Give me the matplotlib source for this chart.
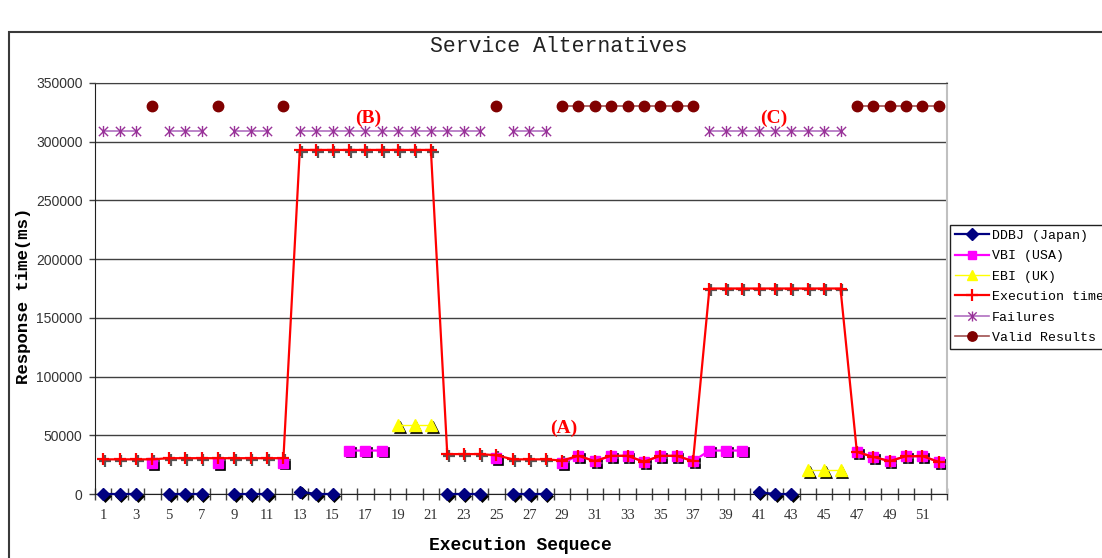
import numpy as np
import matplotlib
matplotlib.use("Agg")
import matplotlib.pyplot as plt
from matplotlib.path import Path
from matplotlib.patches import Rectangle
from matplotlib.transforms import offset_copy

# ============= DATA =============

runs = list(range(1, 53))

ddbj = [0, 0, 0, None, 0, 0, 0, None, 0, 0, 0, None,
        2000, 0, 0, None, None, None, None, None, None, 0, 0, 0,
        None, 0, 0, 0, None, None, None, None, None, None, None, None,
        None, None, None, None, 1500, 0, 0, None, None, None, None, None,
        None, None, None, None]

vbi = [None, None, None, 26500, None, None, None, 26500, None, None, None, 26800,
       None, None, None, 37000, 37000, 37000, None, None, None, None, None, None,
       30800, None, None, None, 26500, 32500, 28000, 32500, 32500, 27500, 32500, 32500,
       28000, 37000, 37000, 37000, None, None, None, None, None, None, 35800, 31600,
       28000, 32200, 32200, 27400]

ebi = [None] * 18 + [59000, 59000, 59000] + [None] * 22 + [20300, 20300, 20300] + [None] * 6

exec_time = [29500, 29500, 29500, 29500, 30500, 30500, 30500, 30500, 30500, 30500, 30500, 30500,
             293000, 293000, 293000, 293000, 293000, 293000, 293000, 293000, 293000, 34000, 34000, 34000,
             33000, 29500, 29500, 29500, 28500, 32500, 28000, 32500, 32500, 27500, 32500, 32500,
             28000, 175000, 175000, 175000, 175000, 175000, 175000, 175000, 175000, 175000, 35800, 31600,
             28000, 32200, 32200, 27400]

failures = [309000, 309000, 309000, None, 309000, 309000, 309000, None, 309000, 309000, 309000, None,
            309000, 309000, 309000, 309000, 309000, 309000, 309000, 309000, 309000, 309000, 309000, 309000,
            None, 309000, 309000, 309000, None, None, None, None, None, None, None, None,
            None, 309000, 309000, 309000, 309000, 309000, 309000, 309000, 309000, 309000, None, None,
            None, None, None, None]

valid = [None, None, None, 330000, None, None, None, 330000, None, None, None, 330000,
         None, None, None, None, None, None, None, None, None, None, None, None,
         330000, None, None, None, 330000, 330000, 330000, 330000, 330000, 330000, 330000, 330000,
         330000, None, None, None, None, None, None, None, None, None, 330000, 330000,
         330000, 330000, 330000, 330000]

annotations = [("(B)", 17.2, 320000), ("(C)", 41.9, 320000), ("(A)", 29.1, 56000)]

# ============= PLOT =============

x = np.array(runs)
arr = lambda v: np.array(v, dtype=float)

# Excel-like star marker: an X with a vertical bar
star_path = Path([(-1, -1), (1, 1), (-1, 1), (1, -1), (0, -1.2), (0, 1.2)],
                 [Path.MOVETO, Path.LINETO, Path.MOVETO, Path.LINETO, Path.MOVETO, Path.LINETO])

W, H = 1102, 558
fig = plt.figure(figsize=(W / 100, H / 100), dpi=100)
ax = fig.add_axes([95 / W, 1 - 494 / H, (947 - 95) / W, (494 - 83) / H])

# outer chart frame (runs off the right and bottom edges)
fig.patches.append(Rectangle((9 / W, -0.05), 1.2, (558 - 32) / H + 0.05,
                             transform=fig.transFigure, fill=False,
                             edgecolor='#3a3a3a', linewidth=1.5))

shadow = offset_copy(ax.transData, fig=fig, x=1.8, y=-1.8, units='dots')

series = [
    # label, values, color, line color, marker, size, lw, shadow
    ("DDBJ (Japan)", ddbj, '#000080', '#000080', 'D', 6.5, 1.6, True),
    ("VBI (USA)", vbi, '#FF00FF', '#FF00FF', 's', 6.5, 1.6, True),
    ("EBI (UK)", ebi, '#FFFF00', '#FFFF00', '^', 8, 1.0, True),
    ("Execution time", exec_time, '#FF0000', '#FF0000', '+', 9, 1.6, True),
    ("Failures", failures, '#993399', '#B070C0', star_path, 8, 1.2, False),
    ("Valid Results", valid, '#800000', '#A05050', 'o', 7.5, 1.2, False),
]

for label, vals, mcol, lcol, mk, ms, lw, has_shadow in series:
    y = arr(vals)
    if has_shadow:
        ax.plot(x, y, linestyle='none', marker=mk, markersize=ms,
                color='#555555' if mk == '+' else 'black',
                markeredgewidth=1.6 if mk == '+' else 0.5,
                transform=shadow, zorder=2, clip_on=False)
    ax.plot(x, y, color=lcol, linewidth=lw, marker=mk, markersize=ms,
            markerfacecolor=mcol, markeredgecolor=mcol,
            markeredgewidth=1.6 if mk == '+' else 1.0,
            label=label, zorder=3, clip_on=False)

for text, tx, ty in annotations:
    ax.text(tx, ty, text, color='#FF0000', fontsize=14, fontweight='bold',
            family='Liberation Serif', ha='center', va='center', zorder=5)

# axes
ax.set_xlim(0.5, 52.5)
ax.set_ylim(0, 350000)
ax.set_yticks(np.arange(0, 350001, 50000))
ax.set_yticklabels([str(v) for v in range(0, 350001, 50000)],
                   family='Liberation Sans', fontsize=10, color='#333333')
ax.set_xticks(np.arange(0.5, 53, 1))
ax.set_xticklabels([])
ax.set_xticks(np.arange(1, 53, 2), minor=True)
ax.set_xticklabels([str(v) for v in range(1, 53, 2)], minor=True,
                   family='Liberation Serif', fontsize=10.5, color='#333333')
ax.tick_params(axis='x', which='major', direction='inout', length=8, width=1, color='#404040')
ax.tick_params(axis='x', which='minor', length=0, pad=11)
ax.tick_params(axis='y', direction='out', length=4.5, width=1, color='#404040', pad=4.5)

ax.grid(axis='y', color='#404040', linewidth=1)
ax.set_axisbelow(True)
ax.spines['left'].set_color('#202020')
ax.spines['bottom'].set_color('#202020')
ax.spines['top'].set_color('#404040')
ax.spines['right'].set_color('#C0C0C0')
ax.spines['right'].set_linewidth(1.5)

fig.text(559 / W, 1 - 47 / H, "Service Alternatives", family='Liberation Mono',
         fontsize=15.5, ha='center', va='center', color='#222222')
fig.text(520 / W, 1 - 545 / H, "Execution Sequece", family='Liberation Mono',
         fontsize=13, fontweight='bold', ha='center', va='center')
fig.text(24 / W, 1 - 296 / H, "Response time(ms)", family='Liberation Mono',
         fontsize=12.5, fontweight='bold', ha='center', va='center', rotation=90)

leg = ax.legend(loc='upper left', bbox_to_anchor=(950 / W, 1 - 225 / H),
                bbox_transform=fig.transFigure, prop={'family': 'Liberation Mono', 'size': 9.5},
                frameon=True, fancybox=False, edgecolor='#202020', framealpha=1,
                handlelength=2.6, handletextpad=0.2, labelspacing=0.62,
                borderpad=0.35, borderaxespad=0, markerscale=0.9)
leg.get_frame().set_linewidth(1)

fig.savefig("out.png", dpi=100)
